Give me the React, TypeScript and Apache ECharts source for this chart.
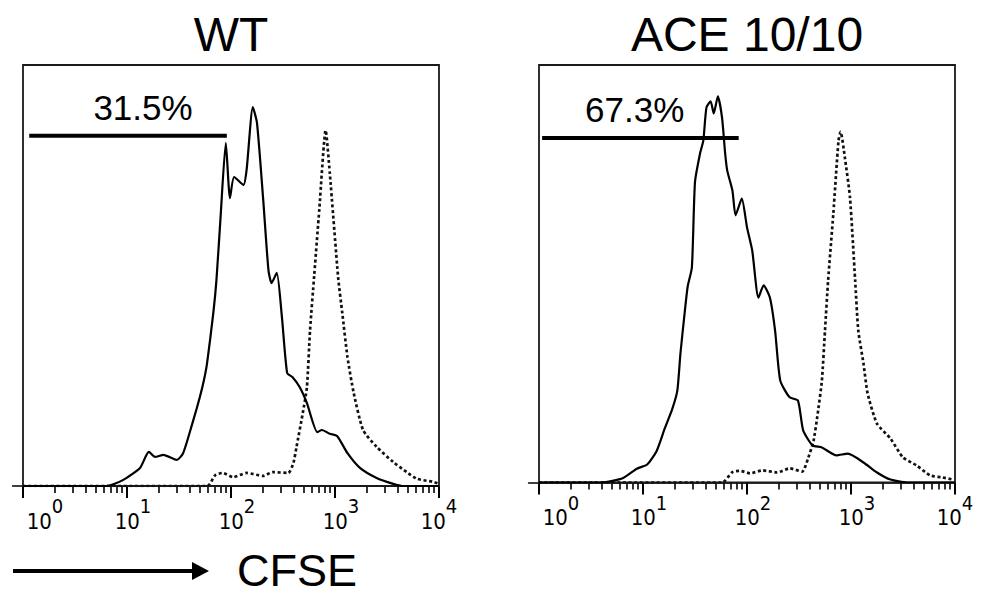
import React, { useEffect, useRef } from 'react';
import * as echarts from 'echarts';

const FONT = '"Liberation Sans", Arial, Helvetica, sans-serif';
const NARROW = '"Liberation Sans Narrow", "Arial Narrow", "DejaVu Sans Condensed", sans-serif';

// x: log10 of CFSE intensity, y: events as % of the histogram scale
const wtDivided: [number, number][] = [
  [0, 0], [0.8, 0], [0.96, 1.4], [1.125, 4.3], [1.21, 8.1], [1.27, 6.9], [1.35, 7.4],
  [1.48, 6.2], [1.54, 7.8], [1.63, 15.0], [1.7, 21.1], [1.74, 25.2], [1.77, 29.2],
  [1.83, 41.1], [1.86, 48.9], [1.9, 64], [1.95, 81.5], [1.99, 68.4], [2.03, 73.4],
  [2.12, 71.5], [2.15, 75.1], [2.21, 90.0], [2.25, 86.2], [2.31, 67.9], [2.36, 51.3],
  [2.39, 48.2], [2.44, 50.6], [2.49, 40], [2.54, 26.8], [2.59, 25.9], [2.66, 23.5],
  [2.73, 19.7], [2.83, 12.8], [2.875, 13.3], [2.95, 12.4], [3.02, 11.9], [3.12, 7.8],
  [3.24, 4.3], [3.4, 1.9], [3.56, 0.5], [3.65, 0], [4, 0],
];

const wtControl: [number, number][] = [
  [0, 0], [1.77, 0], [1.85, 2.6], [1.92, 3.1], [2.02, 2.1], [2.15, 3.1], [2.31, 2.4],
  [2.4, 3.3], [2.55, 3.1], [2.6, 5.5], [2.63, 9.3], [2.69, 17.3], [2.73, 23.5],
  [2.76, 37], [2.8, 50], [2.85, 66], [2.91, 84.5], [2.95, 74.3], [3.03, 49.6],
  [3.07, 41.1], [3.12, 30.6], [3.18, 22.1], [3.27, 13.3], [3.4, 9.3], [3.56, 5.7],
  [3.69, 3.3], [3.79, 1.7], [3.94, 1.0], [4, 0.5],
];

const aceDivided: [number, number][] = [
  [0, 0], [0.6, 0], [0.81, 1.1], [0.94, 3.3], [1.04, 4.3], [1.13, 7.5], [1.21, 13],
  [1.28, 17.5], [1.33, 22], [1.36, 30.9], [1.4, 40.5], [1.43, 47], [1.47, 51.5],
  [1.5, 72], [1.55, 79], [1.58, 81.9], [1.61, 89.8], [1.65, 91.3], [1.68, 88.4],
  [1.72, 92.5], [1.76, 87.4], [1.79, 78.8], [1.81, 74.7], [1.86, 69.9], [1.89, 64],
  [1.95, 68], [2.0, 61.1], [2.05, 55.6], [2.11, 44.3], [2.16, 47.2], [2.22, 44.3],
  [2.27, 36.4], [2.32, 24.4], [2.41, 20.4], [2.49, 19.6], [2.54, 12.5], [2.63, 8.9],
  [2.72, 8.4], [2.86, 6.5], [2.97, 6.9], [3.12, 4.8], [3.25, 2.4], [3.38, 0.7],
  [3.54, 0], [4, 0],
];

const aceControl: [number, number][] = [
  [0, 0], [1.76, 0], [1.86, 2.5], [1.93, 2.8], [2.03, 2.2], [2.15, 2.9], [2.29, 2.4],
  [2.41, 3.4], [2.53, 2.6], [2.59, 6], [2.64, 10], [2.68, 16.5], [2.72, 24.4],
  [2.75, 36.4], [2.78, 48.4], [2.83, 64.4], [2.88, 81.9], [2.9, 84], [2.94, 78],
  [2.99, 68.3], [3.04, 48.4], [3.07, 36.4], [3.12, 28.5], [3.16, 21.3], [3.25, 14.1],
  [3.38, 10.5], [3.5, 6], [3.63, 4.1], [3.76, 1.7], [3.88, 1.2], [3.98, 0.7],
];

// Division gates: [from, to] in log10 units, drawn at a fixed height
const wtGate = [0.06, 1.96];
const aceGate = [0.03, 1.92];
const gateLevels = [83.2, 82.5];
const gateLabels = ['31.5%', '67.3%'];
const gateLabelPoints: [number, number][] = [[1.154, 89.8], [0.92, 89.3]];

const panelTitles = ['WT', 'ACE 10/10'];
const decadeExponents = [0, 1, 2, 3, 4];
const minorMultipliers = [2, 3, 4, 5, 6, 7, 8, 9];
const minorPositions = decadeExponents
  .slice(0, 4)
  .flatMap((d) => minorMultipliers.map((m) => d + Math.log10(m)));

const panels = [
  { divided: wtDivided, control: wtControl, gate: wtGate },
  { divided: aceDivided, control: aceControl, gate: aceGate },
];

const grids = [
  { left: 12.6, top: 65, width: 426.4, height: 421 },
  { left: 528.6, top: 65, width: 426.4, height: 417.5 },
];

const baseLabel = { fontSize: 22, fontFamily: NARROW, color: '#000' };

function buildOption(): echarts.EChartsOption {
  const xAxis: any[] = [];
  const yAxis: any[] = [];
  const series: any[] = [];

  panels.forEach((p, i) => {
    xAxis.push({
      gridIndex: i,
      type: 'value',
      min: -0.1,
      max: 4,
      position: 'bottom',
      axisLine: { show: true, onZero: false, lineStyle: { color: '#000', width: 1.6 } },
      axisTick: {
        show: true,
        customValues: decadeExponents,
        length: 12,
        lineStyle: { color: '#000', width: 2 },
      },
      axisLabel: {
        show: true,
        customValues: decadeExponents,
        margin: 10,
        fontSize: 22,
        fontFamily: NARROW,
        color: '#000',
        formatter: (v: number) => {
          const e = Math.round(v);
          const tag = e === 0 ? 'first' : e === 4 ? 'last' : 'mid';
          return `{${tag}|10}{sup|${e}}`;
        },
        rich: {
          first: { ...baseLabel, padding: [0, 0, 0, 44] },
          mid: { ...baseLabel, padding: [0, 0, 0, 12] },
          last: { ...baseLabel },
          sup: { fontSize: 20, fontFamily: NARROW, color: '#000', padding: [0, 0, 30, 0] },
        },
      },
      splitLine: { show: false },
    });
    xAxis.push({
      gridIndex: i,
      type: 'value',
      min: -0.1,
      max: 4,
      position: 'bottom',
      axisLine: { show: false },
      axisTick: {
        show: true,
        customValues: minorPositions,
        length: 7,
        lineStyle: { color: '#000', width: 1.6 },
      },
      axisLabel: { show: false },
      splitLine: { show: false },
    });
    yAxis.push({ gridIndex: i, type: 'value', min: 0, max: 100, show: false });

    const xi = i * 2;
    series.push({
      type: 'line',
      xAxisIndex: xi,
      yAxisIndex: i,
      data: p.control,
      symbol: 'none',
      smooth: 0.2,
      lineStyle: { color: '#111', width: 2.7, type: [3, 2.6] },
      z: 2,
    });
    series.push({
      type: 'line',
      xAxisIndex: xi,
      yAxisIndex: i,
      data: p.divided,
      symbol: 'none',
      smooth: 0.2,
      lineStyle: { color: '#000', width: 2.2 },
      z: 3,
      markArea: {
        silent: true,
        label: { show: false },
        itemStyle: { color: 'rgba(0,0,0,0)', borderColor: '#1a1a1a', borderWidth: 1.8 },
        data: [[{ coord: [0, 0] }, { coord: [4, 100] }]],
      },
    });
    series.push({
      type: 'line',
      xAxisIndex: xi,
      yAxisIndex: i,
      data: [
        [p.gate[0], gateLevels[i]],
        [p.gate[1], gateLevels[i]],
      ],
      symbol: 'none',
      lineStyle: { color: '#000', width: 4 },
      z: 4,
    });
    series.push({
      type: 'scatter',
      xAxisIndex: xi,
      yAxisIndex: i,
      data: [gateLabelPoints[i]],
      symbolSize: 0,
      itemStyle: { color: '#000' },
      label: {
        show: true,
        position: 'inside',
        formatter: () => gateLabels[i],
        fontSize: 35,
        fontFamily: FONT,
        color: '#000',
        textBorderWidth: 0,
        opacity: 1,
      },
      z: 5,
    });
  });

  const graphic: any[] = [
    ...panelTitles.map((t, i) => ({
      type: 'text',
      x: grids[i].left + 10.4 + 208,
      y: 34,
      style: {
        text: t,
        fontSize: 48,
        fontFamily: FONT,
        fill: '#000',
        textAlign: 'center',
        textVerticalAlign: 'middle',
      },
    })),
    {
      type: 'line',
      shape: { x1: 13, y1: 571, x2: 196, y2: 571 },
      style: { stroke: '#000', lineWidth: 4 },
    },
    {
      type: 'polygon',
      shape: { points: [[192, 562], [209, 571], [192, 580]] },
      style: { fill: '#000' },
    },
    {
      type: 'text',
      x: 237,
      y: 570,
      style: {
        text: 'CFSE',
        fontSize: 45,
        lineHeight: 38,
        fontFamily: FONT,
        fill: '#000',
        textAlign: 'left',
        textVerticalAlign: 'middle',
      },
    },
  ];

  return {
    animation: false,
    backgroundColor: '#fff',
    grid: grids,
    xAxis,
    yAxis,
    series,
    graphic,
  };
}

export default function App() {
  const ref = useRef<HTMLDivElement>(null);

  useEffect(() => {
    document.body.style.margin = '0';
    if (!ref.current) return;
    const chart = echarts.init(ref.current, null, { renderer: 'svg' });
    chart.setOption(buildOption());
    return () => chart.dispose();
  }, []);

  return (
    <div
      ref={ref}
      style={{ position: 'absolute', left: 0, top: 0, width: 992, height: 595, background: '#fff' }}
    />
  );
}
